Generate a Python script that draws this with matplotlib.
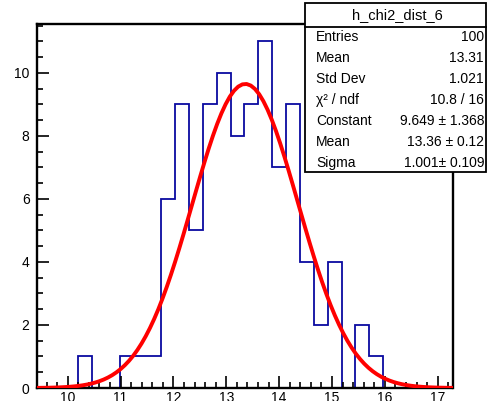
import numpy as np
import matplotlib
matplotlib.use("Agg")
import matplotlib.pyplot as plt
from matplotlib.patches import Rectangle
from matplotlib.ticker import MultipleLocator

plt.rcParams['font.family'] = ['Liberation Sans', 'DejaVu Sans']

# histogram h_chi2_dist_6: 30 bins
xmin, xmax, nbins = 9.41, 17.28, 30
counts = [0, 0, 0, 1, 0, 0, 1, 1, 1, 6,
          9, 5, 9, 10, 8, 9, 11, 7, 9, 4,
          2, 4, 0, 2, 1, 0, 0, 0, 0, 0]

# gaussian fit result (constant, mean, sigma)
fit_const, fit_mean, fit_sigma = 9.649, 13.36, 1.001

stat_title = "h_chi2_dist_6"
stat_labels = ["Entries", "Mean", "Std Dev", "χ² / ndf", "Constant", "Mean", "Sigma"]
stat_values = ["100", "13.31", "1.021", "10.8 / 16", "9.649 ± 1.368", "13.36 ± 0.12", "1.001± 0.109"]

W, H = 487, 401
fig = plt.figure(figsize=(W / 100, H / 100), dpi=100)

# frame in pixels
l, r, t, b = 36.5, 452.5, 24, 388
ax = fig.add_axes([l / W, 1 - b / H, (r - l) / W, (b - t) / H])

edges = np.linspace(xmin, xmax, nbins + 1)
ax.stairs(counts, edges, color='#0a0aa0', lw=1.3, baseline=0)

xf = np.linspace(xmin, xmax, 100)
yf = fit_const * np.exp(-0.5 * ((xf - fit_mean) / fit_sigma) ** 2)
ax.plot(xf, yf, color='#ff0000', lw=2.8, zorder=3)

ax.set_xlim(xmin, xmax)
ax.set_ylim(0, 11.55)
ax.xaxis.set_major_locator(MultipleLocator(1))
ax.xaxis.set_minor_locator(MultipleLocator(0.2))
ax.yaxis.set_major_locator(MultipleLocator(2))
ax.yaxis.set_minor_locator(MultipleLocator(0.5))
ax.tick_params(which='both', direction='in', top=False, right=False, width=1.2, labelsize=10)
ax.tick_params(which='major', length=8.5)
ax.tick_params(which='minor', length=4.3)
ax.tick_params(axis='x', pad=2)
ax.tick_params(axis='y', pad=5)
for s in ax.spines.values():
    s.set_linewidth(1.7)

# stats box
def fx(x):
    return x / W

def fy(y):
    return 1 - y / H

bx0, bx1, by0, by1 = 305, 486, 3, 172
fig.patches.append(Rectangle((fx(bx0), fy(by1)), fx(bx1) - fx(bx0), fy(by0) - fy(by1),
                             transform=fig.transFigure, facecolor='white',
                             edgecolor='black', lw=1.3, zorder=5))
fig.lines.append(plt.Line2D([fx(bx0), fx(bx1)], [fy(27), fy(27)],
                            transform=fig.transFigure, color='black', lw=1.3, zorder=6))
fig.text(fx(397), fy(15), stat_title, ha='center', va='center', fontsize=10.5, zorder=7)
for i, (lab, val) in enumerate(zip(stat_labels, stat_values)):
    yy = 37 + i * 21
    fig.text(fx(316), fy(yy), lab, ha='left', va='center', fontsize=10, zorder=7)
    fig.text(fx(484), fy(yy), val, ha='right', va='center', fontsize=10, zorder=7)

fig.savefig("out.png", dpi=100)
